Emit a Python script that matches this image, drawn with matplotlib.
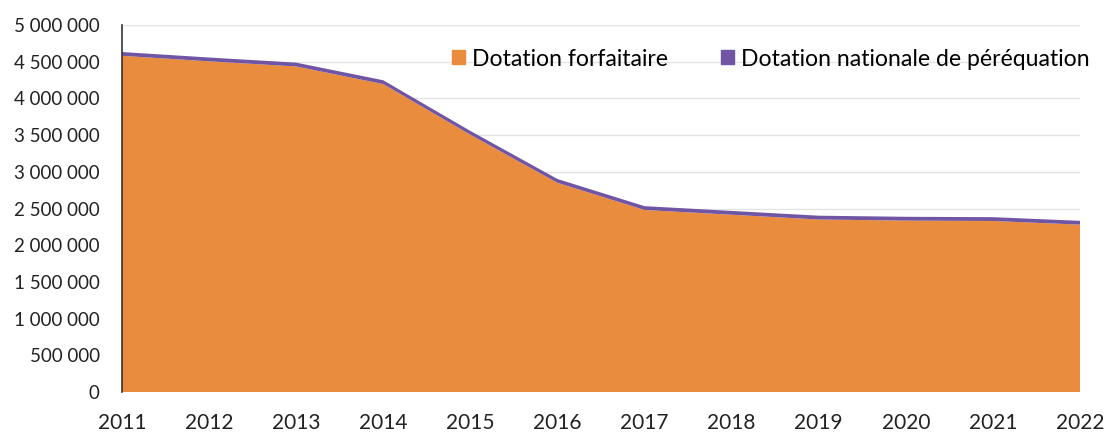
import matplotlib.pyplot as plt
from matplotlib.patches import Patch
from matplotlib.ticker import FuncFormatter

years = [2011, 2012, 2013, 2014, 2015, 2016, 2017, 2018, 2019, 2020, 2021, 2022]
forfaitaire = [4580000, 4505000, 4435000, 4195000, 3505000, 2850000,
               2480000, 2415000, 2350000, 2335000, 2330000, 2280000]
perequation = [52000, 52000, 52000, 52000, 52000, 52000,
               52000, 52000, 52000, 52000, 52000, 52000]
labels = ["Dotation forfaitaire", "Dotation nationale de péréquation"]

orange = "#e98c3d"
purple = "#6f55a3"

plt.rcParams['font.family'] = ['Lato', 'DejaVu Sans']

fig = plt.figure(figsize=(11.05, 4.32), dpi=100)
ax = fig.add_axes([122 / 1105, 1 - 392 / 432, (1080 - 122) / 1105, (392 - 25) / 432])

ax.stackplot(years, forfaitaire, perequation, colors=[orange, purple],
             linewidth=0, zorder=2)

ax.set_xlim(2011, 2022)
ax.set_ylim(0, 5000000)
ax.set_xticks(years)
ax.set_yticks(range(0, 5000001, 500000))
ax.yaxis.set_major_formatter(FuncFormatter(lambda v, p: f"{int(v):,}".replace(",", " ")))
ax.tick_params(axis='both', length=0, colors="#222222")
ax.tick_params(axis='x', pad=15, labelsize=15)
ax.tick_params(axis='y', pad=16, labelsize=13.5)
ax.grid(axis='y', color="#e4e4e4", linewidth=1, zorder=0)
ax.set_axisbelow(True)

for s in ['top', 'right', 'bottom']:
    ax.spines[s].set_visible(False)
ax.spines['left'].set_color("#333333")
ax.spines['left'].set_linewidth(1.2)
ax.spines['left'].set_zorder(3)

handles = [Patch(color=orange), Patch(color=purple)]
fig.legend(handles, labels, loc='center left', bbox_to_anchor=(452 / 1105, 1 - 59 / 432),
           ncol=2, frameon=False, fontsize=16.6, handlelength=0.56, handleheight=0.56,
           handletextpad=0.3, columnspacing=2.3, borderaxespad=0, borderpad=0)

plt.savefig("out.png", dpi=100, facecolor='white')
